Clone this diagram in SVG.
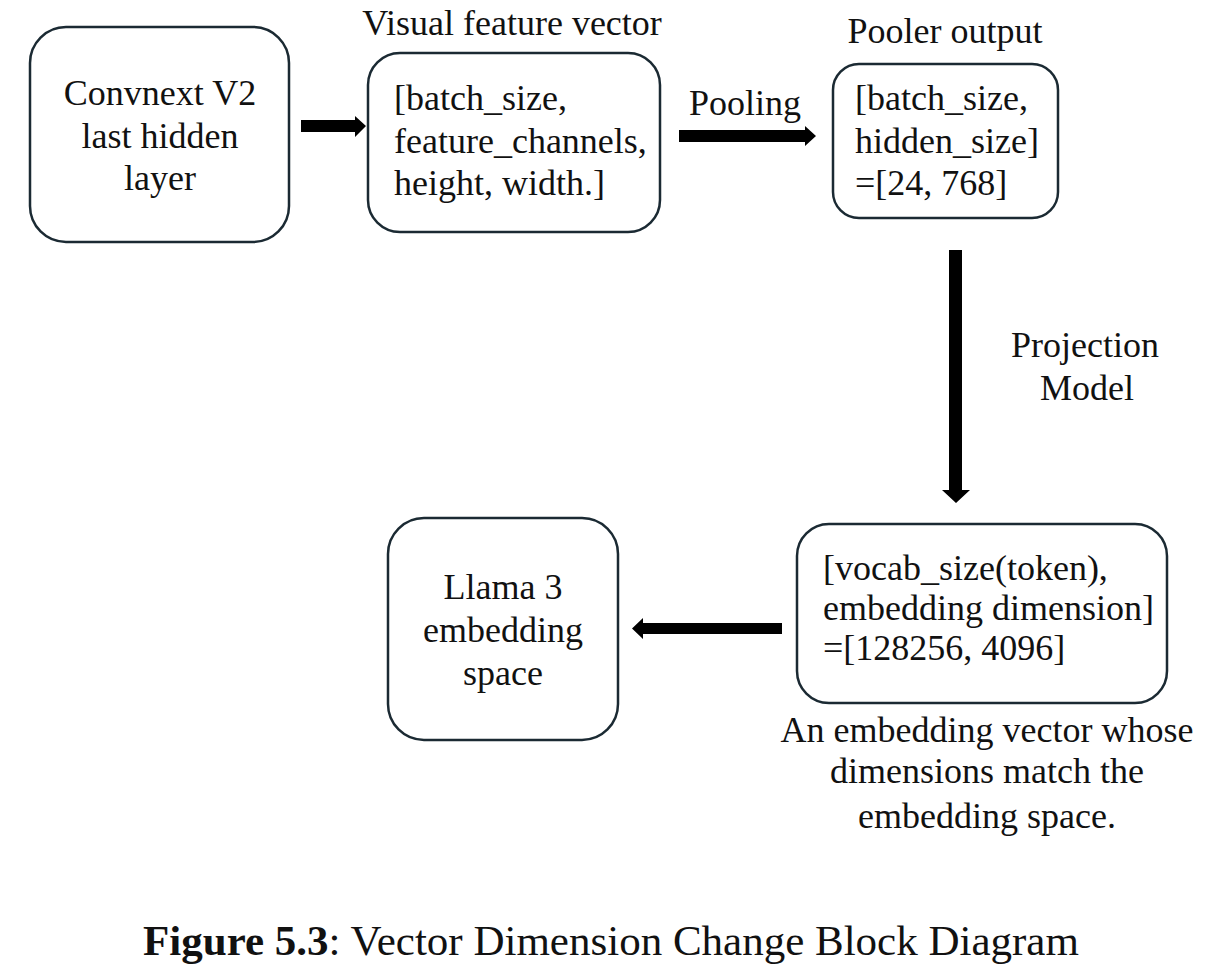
<svg xmlns="http://www.w3.org/2000/svg" width="1210" height="971" viewBox="0 0 1210 971">
<style>
.box{fill:#fff;stroke:#1b2a33;stroke-width:2.5}
.t{font-family:"Liberation Serif","Times New Roman",serif;font-size:36px;fill:#111}
.c{text-anchor:middle}
.arr{fill:#000}
</style>
<rect width="1210" height="971" fill="#fff"/>
<g id="node-convnext">
<rect class="box" x="30" y="27" width="259" height="215" rx="36"/>
<text class="t c" x="160" y="105">Convnext V2</text>
<text class="t c" x="160" y="148">last hidden</text>
<text class="t c" x="160" y="190">layer</text>
</g>
<g id="node-visual">
<text class="t c" x="512" y="35">Visual feature vector</text>
<rect class="box" x="368" y="53" width="292" height="179" rx="32"/>
<text class="t" x="394" y="110">[batch_size,</text>
<text class="t" x="394" y="153">feature_channels,</text>
<text class="t" x="394" y="195">height, width.]</text>
</g>
<g id="node-pooler">
<text class="t c" x="945" y="43">Pooler output</text>
<rect class="box" x="833" y="64" width="225" height="154" rx="26"/>
<text class="t" x="855" y="110">[batch_size,</text>
<text class="t" x="855" y="153">hidden_size]</text>
<text class="t" x="855" y="195">=[24, 768]</text>
</g>
<g id="node-projected">
<rect class="box" x="797" y="524" width="370" height="179" rx="32"/>
<text class="t" x="823" y="580">[vocab_size(token),</text>
<text class="t" x="823" y="620">embedding dimension]</text>
<text class="t" x="823" y="660">=[128256, 4096]</text>
<text class="t c" x="987" y="742">An embedding vector whose</text>
<text class="t c" x="987" y="783">dimensions match the</text>
<text class="t c" x="987" y="828">embedding space.</text>
</g>
<g id="node-llama">
<rect class="box" x="388" y="518" width="230" height="222" rx="36"/>
<text class="t c" x="503" y="599">Llama 3</text>
<text class="t c" x="503" y="642">embedding</text>
<text class="t c" x="503" y="685">space</text>
</g>
<g id="connectors">
<polygon class="arr" points="301,120 355,120 355,116 366,126 355,137 355,132 301,132"/>
<polygon class="arr" points="679,130 805,130 805,126 816,136 805,146 805,142 679,142"/>
<text class="t c" x="745" y="115">Pooling</text>
<polygon class="arr" points="949,250 962,250 962,490 970,490 956,503 942,490 949,490"/>
<text class="t c" x="1085" y="357">Projection</text>
<text class="t c" x="1087" y="400">Model</text>
<polygon class="arr" points="782,623 782,634 643,634 643,639 632,628.5 643,618 643,623"/>
</g>
<g id="caption">
<text x="143" y="955" style="font-family:'Liberation Serif','Times New Roman',serif;font-size:43px;fill:#111"><tspan font-weight="bold">Figure 5.3</tspan>: Vector Dimension Change Block Diagram</text>
</g>
</svg>
